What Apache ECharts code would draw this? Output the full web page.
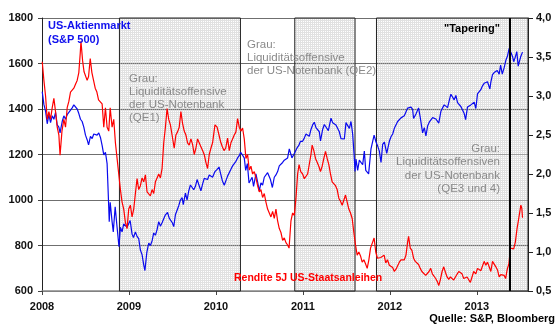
<!DOCTYPE html>
<html><head><meta charset="utf-8">
<script src="https://cdn.jsdelivr.net/npm/echarts@6/dist/echarts.min.js"></script>
<style>html,body{margin:0;padding:0;background:#fff}#c{width:560px;height:331px}</style>
</head><body><div id="c"></div>
<script>
// S&P 500 (left axis)
const spData = [
['2008-01-02',1476],['2008-01-09',1420],['2008-01-16',1390],['2008-01-23',1335],['2008-01-30',1375],
['2008-02-06',1340],['2008-02-13',1370],['2008-02-20',1355],['2008-02-27',1385],['2008-03-05',1330],
['2008-03-12',1320],['2008-03-17',1295],['2008-03-26',1345],['2008-04-02',1370],['2008-04-09',1355],
['2008-04-16',1375],['2008-04-23',1385],['2008-04-30',1395],['2008-05-07',1405],['2008-05-14',1418],
['2008-05-19',1422],['2008-05-28',1400],['2008-06-04',1380],['2008-06-11',1355],['2008-06-18',1345],
['2008-06-25',1320],['2008-07-02',1285],['2008-07-09',1265],['2008-07-15',1242],['2008-07-23',1280],
['2008-07-30',1270],['2008-08-06',1290],['2008-08-13',1293],['2008-08-20',1285],['2008-08-27',1295],
['2008-09-03',1275],['2008-09-10',1240],['2008-09-17',1198],['2008-09-24',1210],['2008-10-01',1160],
['2008-10-06',1022],['2008-10-10',905],['2008-10-14',990],['2008-10-22',905],['2008-10-27',860],
['2008-11-04',970],['2008-11-12',880],['2008-11-20',795],['2008-11-26',880],['2008-12-03',860],
['2008-12-10',895],['2008-12-17',890],['2008-12-24',880],['2009-01-06',910],['2009-01-14',850],
['2009-01-20',835],['2009-01-28',860],['2009-02-04',840],['2009-02-11',830],['2009-02-18',780],
['2009-02-25',760],['2009-03-04',715],['2009-03-09',690],['2009-03-17',770],['2009-03-25',810],
['2009-04-01',800],['2009-04-08',820],['2009-04-15',855],['2009-04-22',845],['2009-04-29',870],
['2009-05-06',905],['2009-05-13',885],['2009-05-20',900],['2009-05-27',905],['2009-06-03',935],
['2009-06-12',945],['2009-06-19',920],['2009-06-26',915],['2009-07-02',900],['2009-07-08',883],
['2009-07-15',935],['2009-07-22',955],['2009-07-29',975],['2009-08-05',1000],['2009-08-12',1010],
['2009-08-17',980],['2009-08-26',1030],['2009-09-02',1000],['2009-09-09',1040],['2009-09-16',1066],
['2009-09-23',1060],['2009-09-30',1045],['2009-10-07',1060],['2009-10-14',1090],['2009-10-21',1085],
['2009-10-30',1040],['2009-11-06',1070],['2009-11-13',1095],['2009-11-20',1090],['2009-11-27',1090],
['2009-12-04',1110],['2009-12-11',1105],['2009-12-18',1100],['2009-12-28',1125],['2010-01-06',1135],
['2010-01-14',1145],['2010-01-21',1115],['2010-01-28',1085],['2010-02-05',1065],['2010-02-12',1073],
['2010-02-19',1105],['2010-02-26',1105],['2010-03-05',1135],['2010-03-12',1150],['2010-03-19',1160],
['2010-03-26',1170],['2010-04-02',1185],['2010-04-09',1195],['2010-04-15',1210],['2010-04-23',1215],
['2010-04-30',1185],['2010-05-06',1130],['2010-05-13',1160],['2010-05-20',1075],['2010-05-25',1070],
['2010-06-02',1100],['2010-06-08',1060],['2010-06-18',1115],['2010-06-25',1080],['2010-07-02',1040],
['2010-07-09',1075],['2010-07-16',1065],['2010-07-23',1100],['2010-07-30',1105],['2010-08-06',1120],
['2010-08-09',1124],['2010-08-18',1090],['2010-08-26',1055],['2010-09-03',1100],['2010-09-10',1110],
['2010-09-17',1125],['2010-09-24',1150],['2010-10-01',1145],['2010-10-08',1165],['2010-10-15',1175],
['2010-10-22',1183],['2010-10-29',1185],['2010-11-05',1225],['2010-11-12',1200],['2010-11-16',1185],
['2010-11-24',1200],['2010-12-01',1205],['2010-12-08',1230],['2010-12-15',1240],['2010-12-22',1258],
['2010-12-31',1258],['2011-01-07',1272],['2011-01-14',1290],['2011-01-21',1285],['2011-01-28',1280],
['2011-02-04',1310],['2011-02-11',1330],['2011-02-18',1342],['2011-02-25',1318],['2011-03-04',1320],
['2011-03-11',1300],['2011-03-16',1260],['2011-03-25',1310],['2011-04-01',1332],['2011-04-08',1328],
['2011-04-18',1305],['2011-04-29',1360],['2011-05-06',1340],['2011-05-13',1338],['2011-05-20',1330],
['2011-05-27',1330],['2011-06-03',1300],['2011-06-10',1270],['2011-06-17',1272],['2011-06-24',1268],
['2011-07-01',1340],['2011-07-08',1345],['2011-07-15',1315],['2011-07-22',1345],['2011-07-29',1290],
['2011-08-04',1200],['2011-08-08',1125],['2011-08-12',1180],['2011-08-19',1130],['2011-08-26',1175],
['2011-09-02',1175],['2011-09-09',1155],['2011-09-16',1215],['2011-09-22',1130],['2011-09-30',1135],
['2011-10-04',1115],['2011-10-14',1225],['2011-10-27',1285],['2011-11-04',1255],['2011-11-10',1240],
['2011-11-18',1215],['2011-11-25',1165],['2011-12-02',1245],['2011-12-09',1255],['2011-12-19',1205],
['2011-12-30',1258],['2012-01-06',1278],['2012-01-13',1290],['2012-01-20',1315],['2012-01-27',1316],
['2012-02-03',1345],['2012-02-10',1342],['2012-02-17',1361],['2012-02-24',1365],['2012-03-02',1370],
['2012-03-09',1370],['2012-03-16',1404],['2012-03-23',1397],['2012-03-30',1408],['2012-04-06',1398],
['2012-04-10',1358],['2012-04-20',1378],['2012-05-01',1405],['2012-05-08',1363],['2012-05-18',1295],
['2012-05-25',1318],['2012-06-01',1282],['2012-06-08',1325],['2012-06-15',1342],['2012-06-22',1335],
['2012-06-29',1362],['2012-07-06',1355],['2012-07-13',1356],['2012-07-20',1362],['2012-07-25',1338],
['2012-08-03',1390],['2012-08-10',1405],['2012-08-17',1418],['2012-08-24',1411],['2012-08-31',1406],
['2012-09-07',1437],['2012-09-14',1465],['2012-09-21',1460],['2012-09-28',1440],['2012-10-05',1460],
['2012-10-12',1428],['2012-10-19',1433],['2012-10-26',1411],['2012-11-02',1414],['2012-11-09',1380],
['2012-11-15',1353],['2012-11-23',1409],['2012-11-30',1416],['2012-12-07',1418],['2012-12-14',1413],
['2012-12-21',1430],['2012-12-28',1402],['2013-01-04',1466],['2013-01-11',1472],['2013-01-18',1485],
['2013-01-25',1502],['2013-02-01',1513],['2013-02-08',1518],['2013-02-15',1520],['2013-02-25',1488],
['2013-03-01',1518],['2013-03-08',1551],['2013-03-15',1560],['2013-03-22',1556],['2013-03-28',1569],
['2013-04-05',1553],['2013-04-11',1593],['2013-04-18',1553],['2013-04-26',1582],['2013-05-03',1614],
['2013-05-10',1633],['2013-05-17',1667],['2013-05-21',1669],['2013-05-31',1631],['2013-06-05',1608],
['2013-06-11',1626],['2013-06-18',1652],['2013-06-24',1588],['2013-06-28',1606],['2013-07-05',1632],
['2013-07-12',1650]
];
// Rendite 5J US-Staatsanleihen (right axis, %)
const yieldData = [
['2008-01-02',3.44],['2008-01-09',3.20],['2008-01-16',3.00],['2008-01-23',2.70],['2008-01-30',2.80],
['2008-02-06',2.70],['2008-02-13',2.85],['2008-02-20',2.97],['2008-02-27',2.80],['2008-03-05',2.60],
['2008-03-12',2.50],['2008-03-17',2.24],['2008-03-25',2.55],['2008-04-02',2.70],['2008-04-09',2.60],
['2008-04-16',2.85],['2008-04-23',2.93],['2008-04-30',3.05],['2008-05-07',3.05],['2008-05-14',3.10],
['2008-05-21',3.15],['2008-05-28',3.20],['2008-06-04',3.30],['2008-06-10',3.55],['2008-06-13',3.70],
['2008-06-20',3.45],['2008-06-26',3.31],['2008-07-02',3.30],['2008-07-09',3.20],['2008-07-15',3.25],
['2008-07-22',3.48],['2008-07-29',3.30],['2008-08-05',3.20],['2008-08-12',3.10],['2008-08-19',3.05],
['2008-08-26',2.95],['2008-09-03',2.93],['2008-09-10',2.90],['2008-09-17',2.60],['2008-09-24',2.85],
['2008-10-01',2.60],['2008-10-08',2.55],['2008-10-14',2.85],['2008-10-22',2.60],['2008-10-29',2.70],
['2008-11-05',2.40],['2008-11-12',2.20],['2008-11-19',2.00],['2008-11-26',1.80],['2008-12-03',1.64],
['2008-12-10',1.55],['2008-12-17',1.38],['2008-12-24',1.30],['2008-12-31',1.55],['2009-01-07',1.60],
['2009-01-14',1.45],['2009-01-21',1.55],['2009-01-28',1.75],['2009-02-04',1.94],['2009-02-11',1.80],
['2009-02-18',1.85],['2009-02-25',1.95],['2009-03-04',1.90],['2009-03-11',1.99],['2009-03-18',1.77],
['2009-03-25',1.75],['2009-04-01',1.72],['2009-04-08',1.80],['2009-04-15',1.75],['2009-04-22',1.90],
['2009-04-29',1.95],['2009-05-06',2.00],['2009-05-13',1.95],['2009-05-20',2.07],['2009-05-27',2.40],
['2009-06-03',2.60],['2009-06-10',2.84],['2009-06-17',2.70],['2009-06-24',2.63],['2009-07-01',2.50],
['2009-07-10',2.33],['2009-07-17',2.50],['2009-07-24',2.54],['2009-07-31',2.60],['2009-08-07',2.80],
['2009-08-14',2.65],['2009-08-21',2.55],['2009-08-28',2.50],['2009-09-04',2.40],['2009-09-11',2.37],
['2009-09-18',2.45],['2009-09-25',2.38],['2009-10-02',2.25],['2009-10-09',2.33],['2009-10-16',2.45],
['2009-10-23',2.46],['2009-10-30',2.35],['2009-11-06',2.30],['2009-11-13',2.25],['2009-11-20',2.15],
['2009-11-27',2.07],['2009-12-04',2.25],['2009-12-11',2.33],['2009-12-18',2.40],['2009-12-28',2.63],
['2010-01-06',2.60],['2010-01-14',2.50],['2010-01-21',2.41],['2010-01-28',2.35],['2010-02-04',2.30],
['2010-02-11',2.33],['2010-02-19',2.46],['2010-02-26',2.30],['2010-03-05',2.40],['2010-03-12',2.45],
['2010-03-19',2.50],['2010-03-26',2.54],['2010-04-02',2.71],['2010-04-09',2.60],['2010-04-16',2.55],
['2010-04-23',2.59],['2010-04-30',2.45],['2010-05-07',2.20],['2010-05-14',2.25],['2010-05-21',2.05],
['2010-05-28',2.10],['2010-06-04',2.00],['2010-06-11',2.03],['2010-06-18',1.95],['2010-06-25',1.85],
['2010-07-02',1.77],['2010-07-09',1.80],['2010-07-16',1.70],['2010-07-23',1.75],['2010-07-30',1.64],
['2010-08-06',1.55],['2010-08-13',1.50],['2010-08-20',1.45],['2010-08-27',1.52],['2010-09-03',1.43],
['2010-09-10',1.55],['2010-09-17',1.40],['2010-09-24',1.30],['2010-10-01',1.25],['2010-10-08',1.15],
['2010-10-15',1.18],['2010-10-22',1.12],['2010-10-29',1.09],['2010-11-04',1.05],['2010-11-12',1.40],
['2010-11-19',1.50],['2010-11-26',1.47],['2010-12-03',1.69],['2010-12-10',2.00],['2010-12-16',2.12],
['2010-12-23',2.03],['2010-12-31',2.00],['2011-01-07',1.94],['2011-01-14',1.95],['2011-01-21',2.00],
['2011-01-28',1.98],['2011-02-04',2.25],['2011-02-09',2.37],['2011-02-16',2.30],['2011-02-23',2.20],
['2011-03-02',2.15],['2011-03-09',2.10],['2011-03-16',2.03],['2011-03-23',2.10],['2011-03-30',2.20],
['2011-04-06',2.29],['2011-04-13',2.20],['2011-04-20',2.12],['2011-04-27',2.00],['2011-05-04',1.90],
['2011-05-11',1.92],['2011-05-18',1.85],['2011-05-25',1.80],['2011-06-01',1.69],['2011-06-08',1.65],
['2011-06-15',1.60],['2011-06-22',1.62],['2011-06-29',1.73],['2011-07-06',1.75],['2011-07-13',1.55],
['2011-07-20',1.50],['2011-07-27',1.43],['2011-08-03',1.25],['2011-08-10',1.09],['2011-08-17',0.96],
['2011-08-24',1.00],['2011-08-31',0.95],['2011-09-07',0.87],['2011-09-14',0.90],['2011-09-21',0.85],
['2011-09-28',0.79],['2011-10-05',0.90],['2011-10-12',1.05],['2011-10-19',1.05],['2011-10-27',1.18],
['2011-11-03',1.00],['2011-11-10',0.92],['2011-11-17',0.90],['2011-11-24',0.93],['2011-12-01',0.95],
['2011-12-08',0.96],['2011-12-15',0.86],['2011-12-22',0.90],['2011-12-30',0.83],['2012-01-06',0.85],
['2012-01-13',0.80],['2012-01-20',0.75],['2012-01-27',0.78],['2012-02-03',0.80],['2012-02-10',0.87],
['2012-02-17',0.90],['2012-02-24',0.88],['2012-03-02',0.90],['2012-03-09',0.96],['2012-03-16',1.13],
['2012-03-20',1.20],['2012-03-27',1.05],['2012-04-03',1.02],['2012-04-10',0.92],['2012-04-17',0.88],
['2012-04-24',0.90],['2012-05-01',0.84],['2012-05-08',0.79],['2012-05-15',0.75],['2012-05-22',0.77],
['2012-05-31',0.70],['2012-06-07',0.72],['2012-06-14',0.75],['2012-06-21',0.79],['2012-06-28',0.72],
['2012-07-05',0.70],['2012-07-12',0.66],['2012-07-19',0.62],['2012-07-25',0.57],['2012-08-01',0.65],
['2012-08-08',0.75],['2012-08-15',0.81],['2012-08-22',0.74],['2012-08-29',0.68],['2012-09-05',0.65],
['2012-09-12',0.68],['2012-09-19',0.68],['2012-09-26',0.64],['2012-10-03',0.68],['2012-10-10',0.68],
['2012-10-17',0.75],['2012-10-24',0.77],['2012-10-31',0.72],['2012-11-07',0.66],['2012-11-14',0.64],
['2012-11-21',0.68],['2012-11-28',0.66],['2012-12-05',0.61],['2012-12-12',0.68],['2012-12-19',0.75],
['2012-12-28',0.72],['2013-01-04',0.79],['2013-01-11',0.78],['2013-01-18',0.76],['2013-01-25',0.82],
['2013-02-01',0.88],['2013-02-08',0.83],['2013-02-15',0.87],['2013-02-22',0.81],['2013-03-01',0.75],
['2013-03-08',0.88],['2013-03-15',0.87],['2013-03-22',0.81],['2013-03-29',0.77],['2013-04-05',0.68],
['2013-04-12',0.71],['2013-04-19',0.69],['2013-04-26',0.70],['2013-05-02',0.66],['2013-05-09',0.78],
['2013-05-16',0.85],['2013-05-22',1.05],['2013-05-29',1.05],['2013-06-05',1.04],['2013-06-12',1.13],
['2013-06-19',1.30],['2013-06-24',1.39],['2013-06-28',1.41],['2013-07-05',1.60],['2013-07-09',1.56],
['2013-07-12',1.44]
];
// Shaded QE periods (start, end) and tapering date
const qePeriods = [['2008-11-22','2010-04-14'],['2010-11-28','2011-08-08'],['2011-11-06','2013-08-04']];
const taperDate = '2013-05-20';
const xStartYear = 2008, xEndDate = '2013-08-04';
const leftAxis = {min: 600, max: 1800, step: 200};
const rightAxis = {min: 0.5, max: 4.0, step: 0.5};

function toYear(s) {
  const [y, m, d] = s.split('-').map(Number);
  const start = Date.UTC(y, 0, 1), next = Date.UTC(y + 1, 0, 1);
  return y + (Date.UTC(y, m - 1, d) - start) / (next - start);
}

const FF = '"Liberation Sans", Arial, sans-serif';
const pc = document.createElement('canvas'); pc.width = 2; pc.height = 2;
const g = pc.getContext('2d');
g.fillStyle = 'rgba(200,200,200,0.55)';
g.fillRect(0, 0, 2, 1); g.fillRect(0, 1, 1, 1);

const chart = echarts.init(document.getElementById('c'), null, {renderer: 'canvas'});

function txt(x, y, text, opt) {
  return {type: 'text', x: x, y: y, z: 100, style: Object.assign({text: text, font: '11.5px ' + FF, fill: '#8a8a8a', textAlign: 'left', textVerticalAlign: 'middle'}, opt || {})};
}

const graphics = [
  txt(48, 26, 'US-Aktienmarkt', {font: 'bold 11px ' + FF, fill: '#1010ee'}),
  txt(48, 39.5, '(S&P 500)', {font: 'bold 11px ' + FF, fill: '#1010ee'}),
  txt(129, 79, 'Grau:'), txt(129, 92, 'Liquiditätsoffensive'), txt(129, 104.5, 'der US-Notenbank'), txt(129, 117.5, '(QE1)'),
  txt(247, 45, 'Grau:'), txt(247, 58, 'Liquiditätsoffensive'), txt(247, 71, 'der US-Notenbank (QE2)'),
  txt(500, 29, '"Tapering"', {font: 'bold 11px ' + FF, fill: '#000', textAlign: 'right'}),
  txt(500, 148.5, 'Grau:', {textAlign: 'right'}), txt(500, 162, 'Liquiditätsoffensiven', {textAlign: 'right'}),
  txt(500, 175.5, 'der US-Notenbank', {textAlign: 'right'}), txt(500, 189, '(QE3 und 4)', {textAlign: 'right'}),
  txt(234, 278.5, 'Rendite 5J US-Staatsanleihen', {font: 'bold 10.5px ' + FF, fill: '#ff0000'}),
  txt(555, 319, 'Quelle: S&P, Bloomberg', {font: 'bold 11px ' + FF, fill: '#000', textAlign: 'right'})
];

chart.setOption({
  animation: false,
  backgroundColor: '#fff',
  grid: {left: 42, right: 32, top: 18, bottom: 40},
  xAxis: {
    type: 'value', min: xStartYear, max: toYear(xEndDate), interval: 1,
    axisLine: {show: true, lineStyle: {color: '#888', width: 1.5}},
    axisTick: {show: true, length: 4, lineStyle: {color: '#444'}},
    axisLabel: {margin: 10, fontFamily: FF, fontWeight: 'bold', fontSize: 11, color: '#111', showMaxLabel: false,
      formatter: v => Number.isInteger(v) ? String(v) : ''},
    splitLine: {show: false}
  },
  yAxis: [{
    type: 'value', min: leftAxis.min, max: leftAxis.max, interval: leftAxis.step, position: 'left',
    axisLine: {show: true, lineStyle: {color: '#222'}},
    axisTick: {show: true, length: 4, lineStyle: {color: '#444'}},
    axisLabel: {margin: 9, fontFamily: FF, fontWeight: 'bold', fontSize: 11, color: '#111',
      formatter: v => String(v)},
    splitLine: {show: true, lineStyle: {color: '#6f6f6f', width: 1}}
  }, {
    type: 'value', min: rightAxis.min, max: rightAxis.max, interval: rightAxis.step, position: 'right',
    axisLine: {show: true, lineStyle: {color: '#222'}},
    axisTick: {show: true, length: 5, lineStyle: {color: '#222'}},
    axisLabel: {margin: 8, fontFamily: FF, fontWeight: 'bold', fontSize: 11, color: '#111',
      formatter: v => v.toFixed(1).replace('.', ',')},
    splitLine: {show: false}
  }],
  series: [{
    name: 'S&P 500', type: 'line', yAxisIndex: 0, showSymbol: false, symbol: 'none',
    data: spData.map(d => [toYear(d[0]), d[1]]),
    lineStyle: {color: '#0a0aee', width: 1.2}, z: 3,
    markArea: {
      silent: true,
      itemStyle: {color: {image: pc, repeat: 'repeat'}, borderColor: '#222', borderWidth: 1},
      data: qePeriods.map(p => [{xAxis: toYear(p[0])}, {xAxis: toYear(p[1])}])
    },
    markLine: {
      silent: true, symbol: 'none', label: {show: false},
      lineStyle: {color: '#000', width: 2, type: 'solid'},
      data: [{xAxis: toYear(taperDate)}]
    }
  }, {
    name: 'Rendite 5J', type: 'line', yAxisIndex: 1, showSymbol: false, symbol: 'none',
    data: yieldData.map(d => [toYear(d[0]), d[1]]),
    lineStyle: {color: '#ff0000', width: 1.2}, z: 3
  }],
  graphic: graphics
});
</script>
</body></html>
